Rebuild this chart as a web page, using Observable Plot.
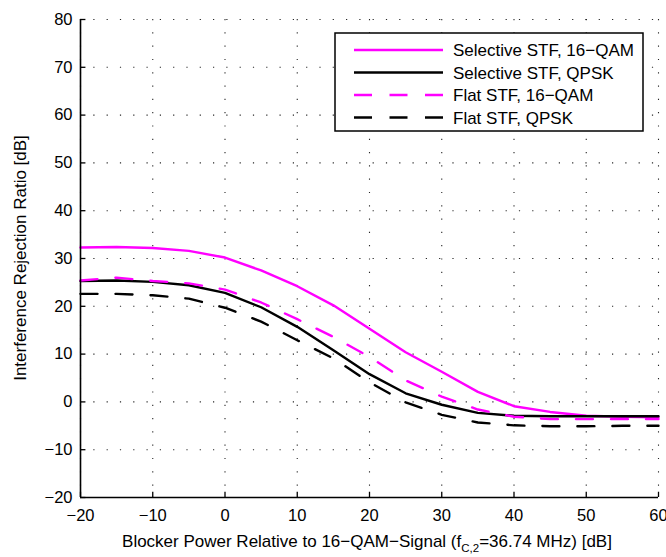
<!DOCTYPE html>
<html>
<head>
<meta charset="utf-8">
<script src="https://cdn.jsdelivr.net/npm/d3@7"></script>
<script src="https://cdn.jsdelivr.net/npm/@observablehq/plot@0.6"></script>
<style>
  html, body { margin: 0; padding: 0; background: #fff; }
  svg { display: block; }
</style>
</head>
<body>
<div id="chart"></div>
<script>
// ---- data ----
const blockerPower = [-20, -15, -10, -5, 0, 5, 10, 15, 20, 25, 30, 35, 40, 45, 50, 55, 60];
const selective16QAM = [32.3, 32.4, 32.2, 31.6, 30.2, 27.5, 24.2, 20.2, 15.3, 10.4, 6.3, 2.1, -0.9, -2.1, -2.9, -3.1, -3.2];
const selectiveQPSK = [25.3, 25.4, 25.1, 24.4, 22.8, 19.8, 15.7, 10.8, 5.8, 1.8, -0.6, -2.3, -2.9, -3.0, -3.0, -3.0, -3.0];
const flat16QAM = [25.4, 26.0, 25.3, 24.8, 23.5, 20.8, 17.3, 13.6, 9.4, 4.5, 1.1, -1.6, -3.1, -3.6, -3.6, -3.6, -3.6];
const flatQPSK = [22.6, 22.6, 22.3, 21.6, 19.7, 16.8, 12.9, 9.1, 4.1, -0.1, -2.7, -4.3, -4.9, -5.1, -5.1, -5.0, -5.0];

const seriesNames = ["Selective STF, 16\u2212QAM", "Selective STF, QPSK", "Flat STF, 16\u2212QAM", "Flat STF, QPSK"];
const seriesValues = [selective16QAM, selectiveQPSK, flat16QAM, flatQPSK];
const seriesColors = ["#ff00ff", "#000000", "#ff00ff", "#000000"];
const seriesDash = [null, null, "17,18", "17,18"];

const xTicks = [-20, -10, 0, 10, 20, 30, 40, 50, 60];
const yTicks = [-20, -10, 0, 10, 20, 30, 40, 50, 60, 70, 80];

const xLabelMain = "Blocker Power Relative to 16\u2212QAM\u2212Signal (f";
const xLabelSub = "C,2";
const xLabelRest = "=36.74 MHz) [dB]";
const yLabel = "Interference Rejection Ratio [dB]";

// ---- build rows ----
const rows = [];
seriesNames.forEach((name, i) => {
  blockerPower.forEach((x, j) => rows.push({series: name, idx: i, x, y: seriesValues[i][j]}));
});

const font = "'Liberation Sans', Arial, Helvetica, sans-serif";
const xMin = xTicks[0], yMin = yTicks[0];

const lineMarks = seriesNames.map((name, i) =>
  Plot.line(rows.filter(r => r.idx === i), {
    x: "x", y: "y",
    stroke: seriesColors[i],
    strokeWidth: 2.4,
    strokeDasharray: seriesDash[i] || undefined,
    strokeLinejoin: "round"
  })
);

const plot = Plot.plot({
  width: 666,
  height: 557,
  marginLeft: 80,
  marginRight: 8,
  marginTop: 19,
  marginBottom: 60,
  style: {fontFamily: font, fontSize: "16.5px", background: "#fff", color: "#000", overflow: "visible"},
  x: {domain: [xMin, xTicks[xTicks.length - 1]], label: null},
  y: {domain: [yMin, yTicks[yTicks.length - 1]], label: null},
  marks: [
    Plot.gridX(xTicks, {stroke: "#000", strokeOpacity: 0.85, strokeWidth: 1.1, strokeDasharray: "1.2,12.1"}),
    Plot.gridY(yTicks, {stroke: "#000", strokeOpacity: 0.85, strokeWidth: 1.1, strokeDasharray: "1.2,12.1"}),
    Plot.axisX(xTicks, {tickSize: 0, tickPadding: 12, fontSize: 16.5, label: null}),
    Plot.axisY(yTicks, {tickSize: 0, tickPadding: 8, fontSize: 16.5, label: null}),
    // inward tick marks
    Plot.ruleX(xTicks, {x: d => d, y1: yMin, y2: yMin + 1.1, stroke: "#000", strokeWidth: 1.3}),
    Plot.ruleY(yTicks, {y: d => d, x1: xMin, x2: xMin + 0.75, stroke: "#000", strokeWidth: 1.3}),
    ...lineMarks,
    // axis lines
    Plot.ruleX([xMin], {stroke: "#000", strokeWidth: 1.6}),
    Plot.ruleY([yMin], {stroke: "#000", strokeWidth: 1.6})
  ]
});

const svg = d3.select(plot);

// x-axis label with subscript
const xl = svg.append("text")
  .attr("x", 367)
  .attr("y", 547)
  .attr("text-anchor", "middle")
  .attr("font-family", font)
  .attr("font-size", 17)
  .attr("fill", "#000");
xl.append("tspan").text(xLabelMain);
xl.append("tspan").attr("font-size", 11.5).attr("dy", 5).text(xLabelSub);
xl.append("tspan").attr("dy", -5).text(xLabelRest);

// y-axis label
svg.append("text")
  .attr("transform", "translate(20,258) rotate(-90)")
  .attr("text-anchor", "middle")
  .attr("dy", "0.35em")
  .attr("font-family", font)
  .attr("font-size", 17)
  .attr("fill", "#000")
  .text(yLabel);

// legend
const lg = svg.append("g");
lg.append("rect")
  .attr("x", 335).attr("y", 33).attr("width", 308).attr("height", 98)
  .attr("fill", "#fff").attr("stroke", "#000").attr("stroke-width", 1.5);
const rowY = [50, 72.5, 95, 117.5];
seriesNames.forEach((name, i) => {
  lg.append("line")
    .attr("x1", 354).attr("x2", 443)
    .attr("y1", rowY[i]).attr("y2", rowY[i])
    .attr("stroke", seriesColors[i])
    .attr("stroke-width", 2.4)
    .attr("stroke-dasharray", seriesDash[i] ? "18,17.5" : null);
  lg.append("text")
    .attr("x", 453).attr("y", rowY[i])
    .attr("dy", "0.36em")
    .attr("text-anchor", "start")
    .attr("font-family", font)
    .attr("font-size", 17)
    .attr("fill", "#000")
    .text(name);
});

document.getElementById("chart").appendChild(plot);
</script>
</body>
</html>
